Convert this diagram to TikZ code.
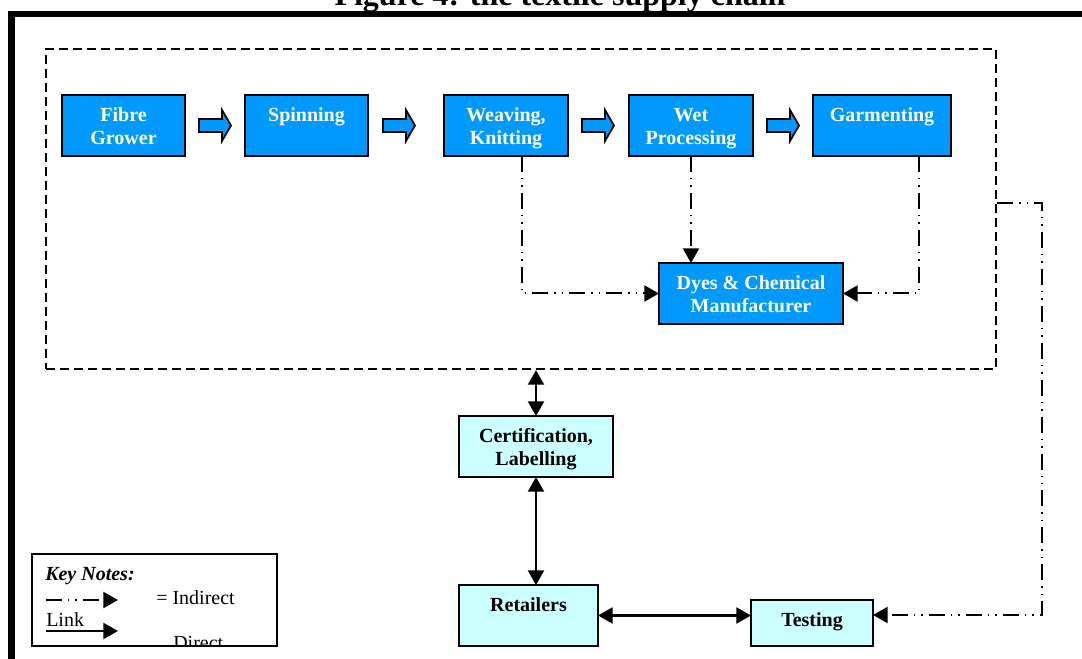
\documentclass[tikz,border=0pt]{standalone}
\usepackage{fontspec}
\setmainfont{Liberation Serif}
\usetikzlibrary{arrows.meta}
\definecolor{myblue}{RGB}{0,153,255}
\definecolor{mycyan}{RGB}{204,255,255}
\newcommand\bx[3]{\parbox[c][#2][t]{#1}{\centering\rule{0pt}{20pt}#3}}
\newcommand\barrow[2]{\draw[blockarrow] (#1-16,#2-6.5) -- (#1+7,#2-6.5) -- (#1+7,#2-15.5) -- (#1+16,#2) -- (#1+7,#2+15.5) -- (#1+7,#2+6.5) -- (#1-16,#2+6.5) -- cycle;}
\begin{document}
\begin{tikzpicture}[x=0.75pt,y=-0.75pt,
  box/.style={draw=black, line width=1.5pt, inner sep=0pt, outer sep=0pt, font=\bfseries\fontsize{15}{17}\selectfont},
  bluebox/.style={box, fill=myblue, text=white},
  cyanbox/.style={box, fill=mycyan, text=black},
  blockarrow/.style={fill=myblue, draw=black, line width=1.3pt, line join=miter},
  indirect/.style={line width=1.5pt, dash pattern=on 12pt off 4.5pt on 1.1pt off 4.5pt on 1.1pt off 4.5pt, -{Triangle[length=11pt,width=12pt]}},
  direct/.style={line width=1.6pt, {Triangle[length=11pt,width=12pt]}-{Triangle[length=11pt,width=12pt]}},
  chainbox/.style={draw=black, line width=1.6pt, dash pattern=on 6.5pt off 4pt, inner sep=0pt},
  keytext/.style={font=\fontsize{15}{17}\selectfont, inner sep=0pt, anchor=base west}
]
\useasboundingbox (0,0) rectangle (1082,659);

% title and frame
\node[font=\bfseries\fontsize{24}{28}\selectfont, anchor=base, inner sep=0pt] (title) at (560,6) {Figure 4: the textile supply chain};
\draw[line width=5pt, line join=miter] (11.5,700) -- (11.5,14) -- (1100,14);

% dashed container
\node[chainbox, minimum width=712.5pt, minimum height=240pt] (chain) at (521,209) {};

% blue boxes
\node[bluebox] (fibre) at (123.5,125.5) {\bx{92.25pt}{45.75pt}{Fibre\\Grower}};
\node[bluebox] (spin)  at (306.5,125.5) {\bx{92.25pt}{45.75pt}{Spinning}};
\node[bluebox] (weave) at (506,125.5)   {\bx{93pt}{45.75pt}{Weaving,\\Knitting}};
\node[bluebox] (wet)   at (691,125.5)   {\bx{93pt}{45.75pt}{Wet\\Processing}};
\node[bluebox] (garm)  at (882,125.5)   {\bx{103.5pt}{45.75pt}{Garmenting}};
\node[bluebox] (dyes)  at (751,293.5)   {\bx{138pt}{45.75pt}{Dyes \& Chemical\\Manufacturer}};

% block arrows
\barrow{215}{125.5}
\barrow{399}{125.5}
\barrow{598}{125.5}
\barrow{783}{125.5}

% cyan boxes
\node[cyanbox] (cert) at (536,446.5) {\bx{115.5pt}{45.75pt}{Certification,\\Labelling}};
\node[cyanbox] (ret)  at (528.5,615.5) {\bx{104.25pt}{45.75pt}{Retailers}};
\node[cyanbox] (test) at (812,623) {\bx{91.5pt}{34.5pt}{Testing}};

% indirect links to dyes
\draw[indirect] ([xshift=16*0.75pt]weave.south) |- (dyes.west);
\draw[indirect] (wet.south) -- (wet.south |- dyes.north);
\draw[indirect] ([xshift=37*0.75pt]garm.south) |- (dyes.east);

% indirect link chain -> testing
\coordinate (r1) at (1042,203);
\coordinate (r2) at (1042,615);
\draw[indirect] (chain.east |- r1) -- (r1) -- (r2) -- (r2 -| test.east);

% direct links
\draw[direct] (cert.north |- chain.south) -- (cert.north);
\draw[direct] (cert.south) -- (cert.south |- ret.north);
\draw[direct] (ret.east) -- (ret.east -| test.west);

% key notes
\node[draw=black, line width=1.2pt, minimum width=183.75pt, minimum height=69pt, inner sep=0pt] (key) at (154.5,600) {};
\begin{scope}
\clip (33,555) rectangle (276,645);
\node[keytext, font=\bfseries\itshape\fontsize{15}{17}\selectfont] (keyt) at (45,580) {Key Notes:};
\coordinate (k1) at (46,600);
\coordinate (k1e) at (118,600);
\draw[indirect] (k1) -- (k1e);
\node[keytext] (kind) at (156,604) {= Indirect};
\node[keytext] (klink) at (46,626) {Link};
\coordinate (k2) at (46,631);
\coordinate (k2e) at (118,631);
\draw[line width=1.6pt, -{Triangle[length=11pt,width=12pt]}] (k2) -- (k2e);
\node[keytext] (kdir) at (173,649) {Direct};
\end{scope}
\end{tikzpicture}
\end{document}
